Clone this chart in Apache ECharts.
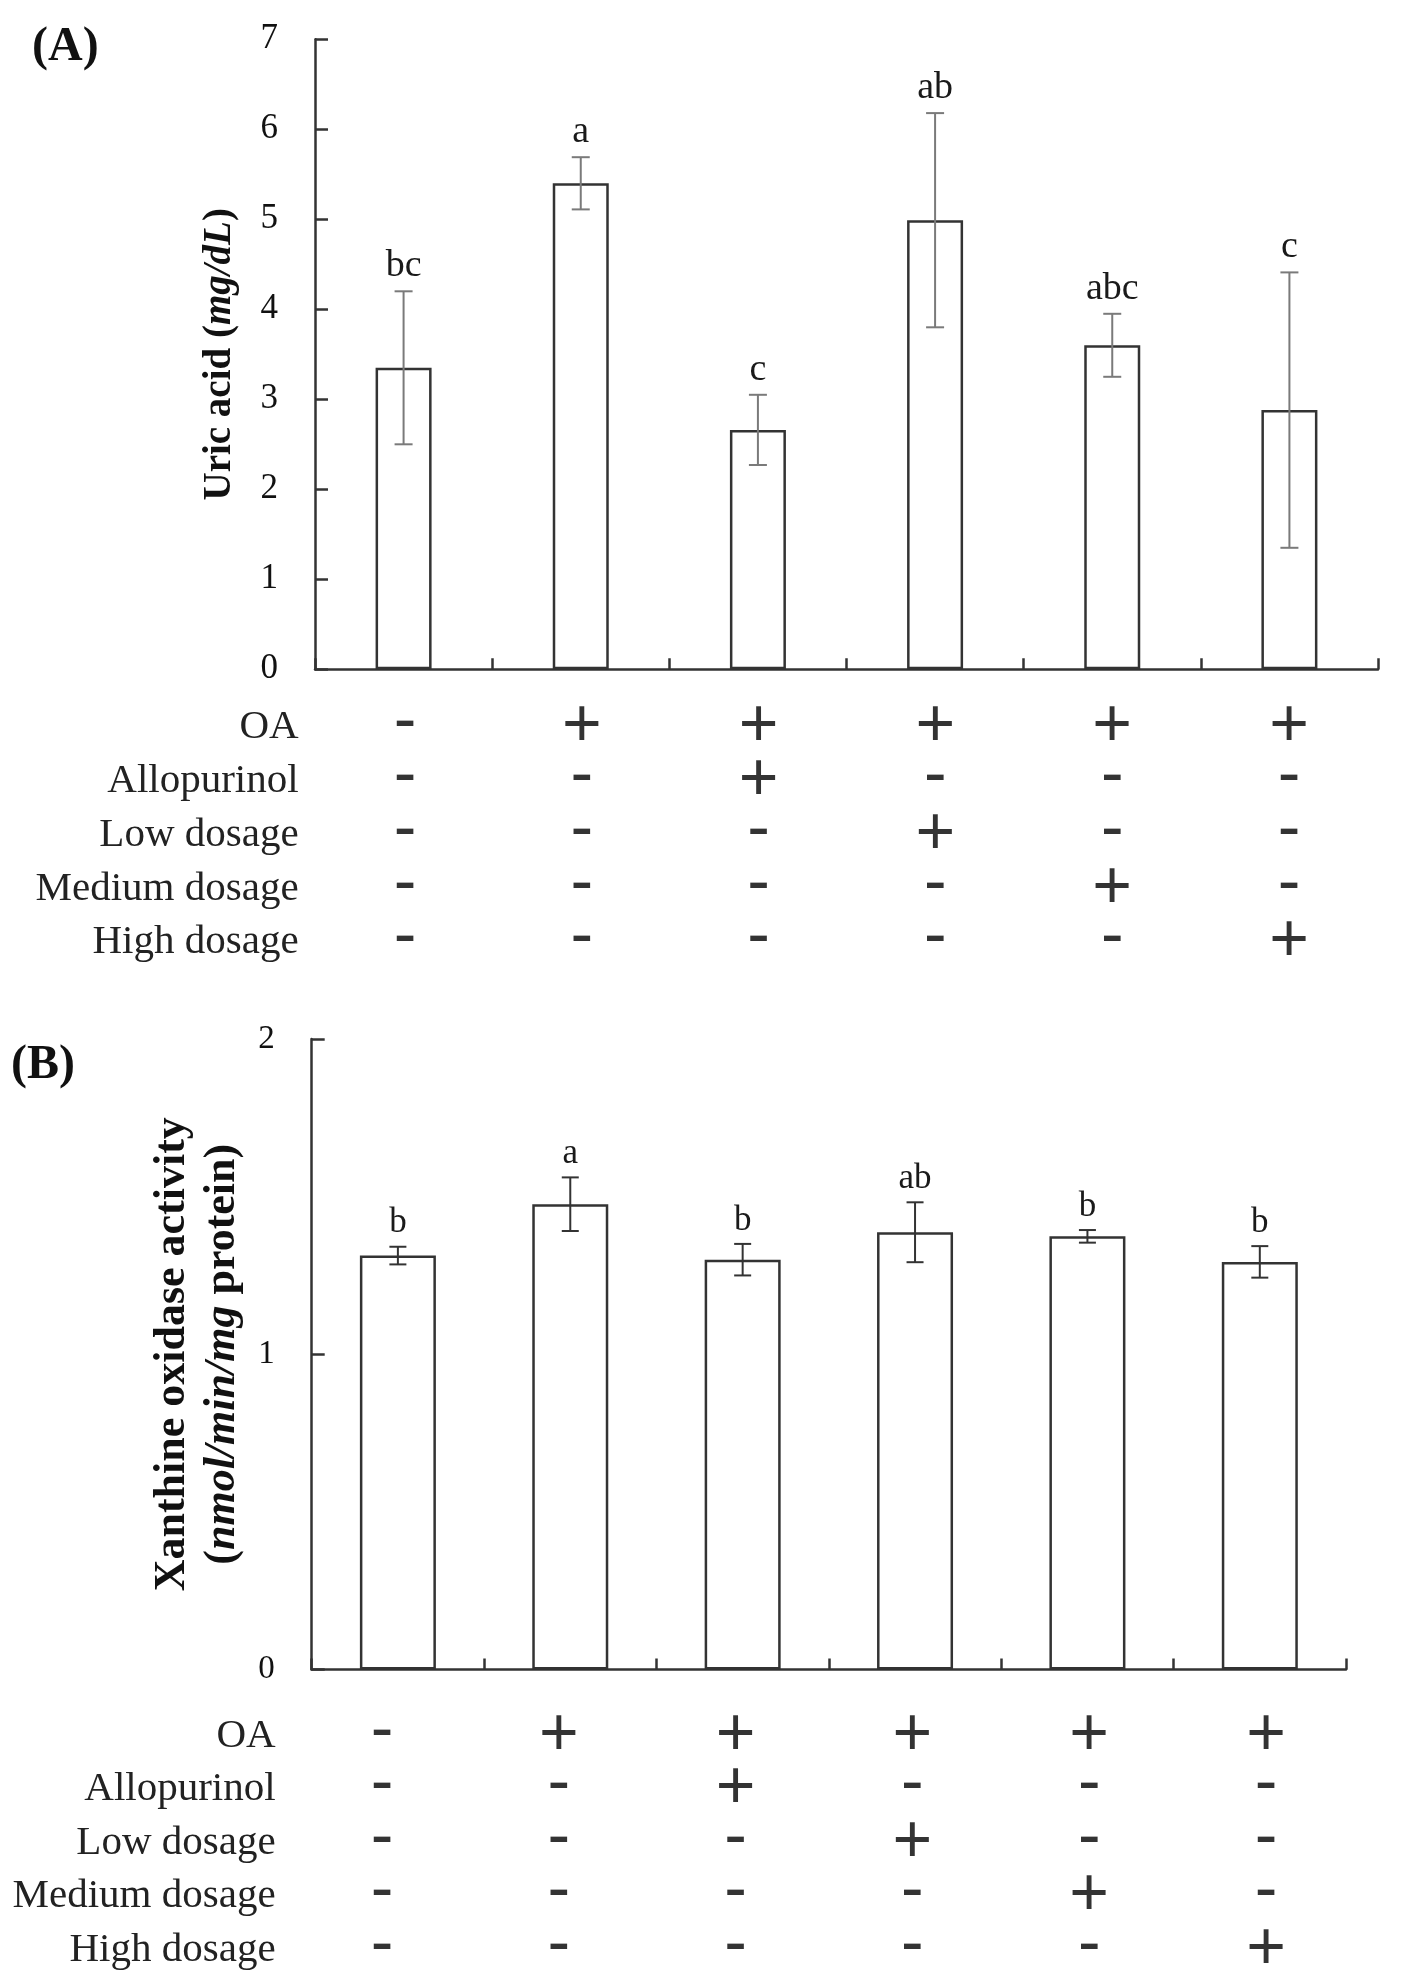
<!DOCTYPE html>
<html>
<head>
<meta charset="utf-8">
<script src="https://cdn.jsdelivr.net/npm/echarts@6/dist/echarts.min.js"></script>
<style>
  html, body { margin: 0; background: #fff; }
  #main { width: 1418px; height: 1977px; }
</style>
</head>
<body>
<div id="main"></div>
<script>
// groups (one per bar / table column)
var groups = ['Control', 'OA', 'OA+Allopurinol', 'OA+Low', 'OA+Medium', 'OA+High'];
// treatment table rows
var factors = ['OA', 'Allopurinol', 'Low dosage', 'Medium dosage', 'High dosage'];
var signs = [
  ['-', '+', '+', '+', '+', '+'],
  ['-', '-', '+', '-', '-', '-'],
  ['-', '-', '-', '+', '-', '-'],
  ['-', '-', '-', '-', '+', '-'],
  ['-', '-', '-', '-', '-', '+']
];

// (A) uric acid, mg/dL
var uricMean = [3.35, 5.40, 2.66, 4.99, 3.60, 2.88];
var uricErr = [0.85, 0.29, 0.39, 1.19, 0.35, 1.53];
var uricLetters = ['bc', 'a', 'c', 'ab', 'abc', 'c'];
var uricTicks = [0, 7, 1];

// (B) xanthine oxidase activity
var xoMean = [1.313, 1.476, 1.300, 1.387, 1.374, 1.293];
var xoErr = [0.028, 0.085, 0.05, 0.095, 0.02, 0.05];
var xoLetters = ['b', 'a', 'b', 'ab', 'b', 'b'];
var xoTicks = [0, 2, 1];

var SERIF = '"Liberation Serif", "Times New Roman", serif';
var SANS = '"Liberation Sans", Arial, sans-serif';
var LINE = '#333';

var chart = echarts.init(document.getElementById('main'), null, { renderer: 'canvas' });

function errData(mean, err) {
  return mean.map(function (m, i) { return [i, m - err[i], m + err[i]]; });
}

function errRender(letters, color, cap, fontSize) {
  return function (params, api) {
    var x = api.value(0);
    var lo = api.coord([x, api.value(1)]);
    var hi = api.coord([x, api.value(2)]);
    var h = cap / 2;
    var st = { stroke: color, lineWidth: 2 };
    return {
      type: 'group',
      children: [
        { type: 'line', shape: { x1: lo[0], y1: lo[1], x2: hi[0], y2: hi[1] }, style: st },
        { type: 'line', shape: { x1: lo[0] - h, y1: lo[1], x2: lo[0] + h, y2: lo[1] }, style: st },
        { type: 'line', shape: { x1: hi[0] - h, y1: hi[1], x2: hi[0] + h, y2: hi[1] }, style: st },
        {
          type: 'text', x: hi[0], y: hi[1] - 6,
          style: {
            text: letters[params.dataIndex],
            fontFamily: SERIF, fontSize: fontSize, fill: '#1a1a1a',
            align: 'center', verticalAlign: 'bottom',
            textAlign: 'center', textVerticalAlign: 'bottom'
          }
        }
      ]
    };
  };
}

function signData(ch) {
  var out = [];
  signs.forEach(function (row, r) {
    row.forEach(function (s, c) { if (s === ch) out.push([c, r]); });
  });
  return out;
}

function signSeries(ch, xi, yi, dy) {
  return {
    type: 'scatter', xAxisIndex: xi, yAxisIndex: yi,
    data: signData(ch), symbolSize: 1,
    itemStyle: { color: 'transparent' },
    silent: true,
    label: {
      show: true, position: 'inside', formatter: ch,
      fontFamily: SANS, fontSize: 68, color: '#000', offset: [0, dy]
    }
  };
}

function valueAxis(grid, ticks, fontSize, nameCfg) {
  return Object.assign({
    type: 'value', gridIndex: grid,
    min: ticks[0], max: ticks[1], interval: ticks[2],
    axisLine: { show: true, lineStyle: { color: LINE, width: 2.5 } },
    axisTick: { show: true, inside: true, length: 13, lineStyle: { color: LINE, width: 2.5 } },
    splitLine: { show: false },
    axisLabel: { fontFamily: SERIF, fontSize: fontSize, color: '#111', margin: 37 }
  }, nameCfg);
}

function barXAxis(grid) {
  return {
    type: 'category', gridIndex: grid, data: groups,
    axisLine: { lineStyle: { color: LINE, width: 2.5 } },
    axisTick: { show: true, inside: true, length: 11, lineStyle: { color: LINE, width: 2.5 } },
    axisLabel: { show: false }
  };
}

function tableAxes(grid) {
  return {
    x: { type: 'category', gridIndex: grid, data: groups, show: false },
    y: {
      type: 'category', gridIndex: grid, data: factors, inverse: true,
      axisLine: { show: false }, axisTick: { show: false }, splitLine: { show: false },
      axisLabel: { fontFamily: SERIF, fontSize: 41, color: '#222', margin: 18 }
    }
  };
}

var tA = tableAxes(2), tB = tableAxes(3);

var option = {
  backgroundColor: '#fff',
  animation: false,
  grid: [
    { left: 315, top: 39.3, width: 1063, height: 630 },
    { left: 311.7, top: 1039, width: 1034.3, height: 630.5 },
    { left: 316.6, top: 700.8, width: 1060.8, height: 268.8 },
    { left: 293.6, top: 1709, width: 1060.8, height: 268.8 }
  ],
  graphic: [
    { type: 'text', left: 32, top: 24, style: { text: '(A)', fontFamily: SERIF, fontSize: 48, fontWeight: 'bold', fill: '#111' } },
    { type: 'text', left: 11, top: 1042, style: { text: '(B)', fontFamily: SERIF, fontSize: 48, fontWeight: 'bold', fill: '#111' } }
  ],
  xAxis: [barXAxis(0), barXAxis(1), tA.x, tB.x],
  yAxis: [
    valueAxis(0, uricTicks, 35, {
      name: '{b|Uric acid (}{bi|mg/dL}{b|)}',
      nameLocation: 'middle', nameGap: 76,
      nameTextStyle: {
        color: '#111',
        rich: {
          b: { fontFamily: SERIF, fontSize: 39, fontWeight: 'bold', color: '#111' },
          bi: { fontFamily: SERIF, fontSize: 39, fontWeight: 'bold', fontStyle: 'italic', color: '#111' }
        }
      }
    }),
    valueAxis(1, xoTicks, 33, {
      name: '{b|Xanthine oxidase activity}\n{b|(}{bi|nmol/min/mg}{b| protein)}',
      nameLocation: 'middle', nameGap: 64,
      nameTextStyle: {
        color: '#111', lineHeight: 50,
        rich: {
          b: { fontFamily: SERIF, fontSize: 44, fontWeight: 'bold', color: '#111', lineHeight: 50 },
          bi: { fontFamily: SERIF, fontSize: 44, fontWeight: 'bold', fontStyle: 'italic', color: '#111', lineHeight: 50 }
        }
      }
    }),
    tA.y, tB.y
  ],
  series: [
    {
      type: 'bar', xAxisIndex: 0, yAxisIndex: 0, data: uricMean, barWidth: 56,
      itemStyle: { color: '#fff', borderColor: LINE, borderWidth: 2.5 }
    },
    {
      type: 'custom', xAxisIndex: 0, yAxisIndex: 0, z: 5,
      data: errData(uricMean, uricErr),
      renderItem: errRender(uricLetters, '#7a7a7a', 18, 38)
    },
    {
      type: 'bar', xAxisIndex: 1, yAxisIndex: 1, data: xoMean, barWidth: 76,
      itemStyle: { color: '#fff', borderColor: LINE, borderWidth: 2.5 }
    },
    {
      type: 'custom', xAxisIndex: 1, yAxisIndex: 1, z: 5,
      data: errData(xoMean, xoErr),
      renderItem: errRender(xoLetters, '#333', 17, 35)
    },
    signSeries('+', 2, 2, 0),
    signSeries('-', 2, 2, -4),
    signSeries('+', 3, 3, 0),
    signSeries('-', 3, 3, -4)
  ]
};

chart.setOption(option);
</script>
</body>
</html>
